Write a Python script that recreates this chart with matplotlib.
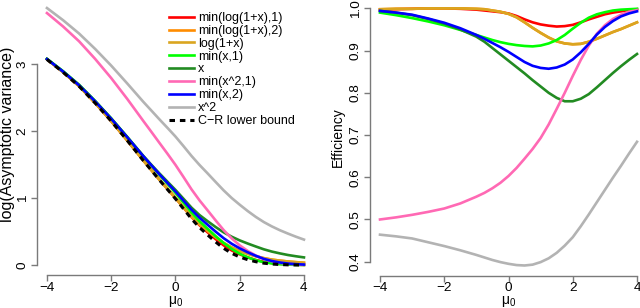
import matplotlib
matplotlib.use("Agg")
import matplotlib.pyplot as plt

plt.rcParams['font.family'] = ['Liberation Sans', 'DejaVu Sans']
plt.rcParams['mathtext.fontset'] = 'custom'
plt.rcParams['mathtext.rm'] = 'Liberation Sans'
plt.rcParams['mathtext.it'] = 'Liberation Sans:italic'

# grid of mu0 values (finer where the curves bend)
mu0 = [-4, -3.5, -3, -2.5, -2, -1.5, -1, -0.75, -0.5, -0.25, 0, 0.25, 0.5, 0.75,
       1, 1.25, 1.5, 1.75, 2, 2.25, 2.5, 2.75, 3, 3.25, 3.5, 3.75, 4]

labels = ["min(log(1+x),1)", "min(log(1+x),2)", "log(1+x)", "min(x,1)", "x",
          "min(x^2,1)", "min(x,2)", "x^2"]
colors = ["#FF0000", "#FF8C00", "#DAA520", "#00FF00", "#228B22",
          "#FF69B4", "#0000FF", "#B3B3B3"]

# left panel: log(asymptotic variance)
logvar_log1x_1 = [3.073, 2.882, 2.671, 2.42, 2.15, 1.861, 1.563, 1.42, 1.277, 1.139, 1.002, 0.858, 0.716, 0.594,
                  0.489, 0.387, 0.294, 0.218, 0.16, 0.114, 0.076, 0.048, 0.029, 0.018, 0.01, 0.005, 0.002]
logvar_log1x_2 = [3.072, 2.881, 2.671, 2.42, 2.15, 1.86, 1.561, 1.417, 1.275, 1.138, 1.003, 0.861, 0.724, 0.607,
                  0.51, 0.417, 0.331, 0.262, 0.209, 0.168, 0.132, 0.103, 0.081, 0.066, 0.053, 0.043, 0.034]
logvar_log1x = [3.072, 2.881, 2.671, 2.42, 2.15, 1.86, 1.561, 1.417, 1.275, 1.138, 1.003, 0.861, 0.724, 0.607,
                0.51, 0.417, 0.331, 0.262, 0.209, 0.168, 0.132, 0.103, 0.081, 0.066, 0.053, 0.043, 0.034]
logvar_minx1 = [3.08, 2.896, 2.693, 2.451, 2.191, 1.912, 1.625, 1.487, 1.348, 1.213, 1.078, 0.931, 0.783, 0.654,
                0.542, 0.432, 0.328, 0.24, 0.169, 0.115, 0.072, 0.042, 0.024, 0.013, 0.006, 0.003, 0.001]
logvar_x = [3.076, 2.89, 2.686, 2.445, 2.187, 1.911, 1.629, 1.497, 1.369, 1.245, 1.122, 0.99, 0.857, 0.746,
            0.655, 0.568, 0.488, 0.423, 0.368, 0.321, 0.277, 0.235, 0.201, 0.174, 0.15, 0.131, 0.114]
logvar_minx2_1 = [3.763, 3.563, 3.341, 3.078, 2.792, 2.48, 2.151, 1.989, 1.825, 1.663, 1.496, 1.315, 1.13, 0.965,
                  0.817, 0.667, 0.522, 0.398, 0.294, 0.21, 0.142, 0.09, 0.056, 0.033, 0.018, 0.009, 0.004]
logvar_minx2 = [3.076, 2.89, 2.685, 2.444, 2.185, 1.908, 1.625, 1.49, 1.356, 1.227, 1.099, 0.962, 0.826, 0.706,
                0.602, 0.499, 0.401, 0.318, 0.249, 0.19, 0.138, 0.092, 0.06, 0.038, 0.022, 0.013, 0.007]
logvar_x2 = [3.838, 3.657, 3.457, 3.227, 2.978, 2.711, 2.437, 2.307, 2.176, 2.049, 1.919, 1.776, 1.629, 1.494,
             1.369, 1.241, 1.115, 1.001, 0.901, 0.806, 0.719, 0.642, 0.577, 0.52, 0.47, 0.423, 0.38]
logvar_cr = [3.07, 2.88, 2.67, 2.42, 2.15, 1.86, 1.56, 1.415, 1.27, 1.13, 0.99, 0.84, 0.69, 0.56,
             0.45, 0.345, 0.25, 0.175, 0.12, 0.08, 0.05, 0.028, 0.015, 0.008, 0.003, 0.001, 0.0]

# right panel: efficiency
eff_log1x_1 = [0.997, 0.998, 0.999, 1.0, 1.0, 0.999, 0.997, 0.995, 0.993, 0.991, 0.988, 0.982, 0.974, 0.967,
               0.962, 0.959, 0.957, 0.958, 0.961, 0.967, 0.974, 0.980, 0.986, 0.990, 0.993, 0.996, 0.998]
eff_log1x_2 = [0.998, 0.999, 0.999, 1.0, 1.0, 1.0, 0.999, 0.998, 0.995, 0.992, 0.987, 0.979, 0.967, 0.954,
               0.942, 0.931, 0.922, 0.917, 0.915, 0.916, 0.921, 0.928, 0.936, 0.944, 0.951, 0.959, 0.967]
eff_log1x = [0.998, 0.999, 0.999, 1.0, 1.0, 1.0, 0.999, 0.998, 0.995, 0.992, 0.987, 0.979, 0.967, 0.954,
             0.942, 0.931, 0.922, 0.917, 0.915, 0.916, 0.921, 0.928, 0.936, 0.944, 0.951, 0.959, 0.967]
eff_minx1 = [0.990, 0.984, 0.977, 0.969, 0.960, 0.949, 0.937, 0.931, 0.925, 0.92, 0.916, 0.913, 0.911, 0.910,
             0.912, 0.917, 0.925, 0.937, 0.952, 0.966, 0.978, 0.986, 0.991, 0.995, 0.997, 0.998, 0.999]
eff_x = [0.994, 0.99, 0.984, 0.975, 0.964, 0.95, 0.933, 0.921, 0.906, 0.891, 0.876, 0.861, 0.846, 0.83,
         0.815, 0.80, 0.788, 0.78, 0.78, 0.786, 0.797, 0.813, 0.83, 0.847, 0.863, 0.878, 0.892]
eff_minx2_1 = [0.5, 0.505, 0.511, 0.518, 0.526, 0.538, 0.554, 0.563, 0.574, 0.587, 0.603, 0.622, 0.644, 0.667,
               0.693, 0.725, 0.762, 0.80, 0.84, 0.878, 0.912, 0.94, 0.96, 0.975, 0.985, 0.992, 0.996]
eff_minx2 = [0.994, 0.99, 0.985, 0.976, 0.966, 0.953, 0.937, 0.928, 0.918, 0.908, 0.897, 0.885, 0.873, 0.864,
             0.859, 0.857, 0.86, 0.867, 0.879, 0.896, 0.916, 0.938, 0.956, 0.97, 0.981, 0.988, 0.993]
eff_x2 = [0.464, 0.46, 0.455, 0.446, 0.437, 0.427, 0.416, 0.41, 0.404, 0.399, 0.395, 0.392, 0.391, 0.393,
          0.399, 0.408, 0.421, 0.438, 0.458, 0.484, 0.512, 0.541, 0.57, 0.599, 0.627, 0.656, 0.684]

logvar = [logvar_log1x_1, logvar_log1x_2, logvar_log1x, logvar_minx1, logvar_x,
          logvar_minx2_1, logvar_minx2, logvar_x2]
eff = [eff_log1x_1, eff_log1x_2, eff_log1x, eff_minx1, eff_x,
       eff_minx2_1, eff_minx2, eff_x2]

axis_gray = "#7a7a7a"
lw = 1.9

fig = plt.figure(figsize=(6.4, 3.08), dpi=100)
ax1 = fig.add_axes([0.0573, 0.106, 0.4337, 0.901])
ax2 = fig.add_axes([0.5777, 0.1032, 0.4337, 0.903])


def r_style(ax, xb, yb):
    for s in ["top", "right"]:
        ax.spines[s].set_visible(False)
    ax.spines["bottom"].set_bounds(*xb)
    ax.spines["left"].set_bounds(*yb)
    for s in ["bottom", "left"]:
        ax.spines[s].set_color(axis_gray)
        ax.spines[s].set_linewidth(1.0)
    ax.tick_params(axis="both", direction="out", length=4, width=1.0,
                   color=axis_gray, labelsize=9.7, labelcolor="black")
    ax.tick_params(axis="x", pad=0.5)
    ax.tick_params(axis="y", pad=1.8)
    for t in ax.get_yticklabels():
        t.set_rotation(90)
        t.set_va("center")


# left panel
for ys, c, lab in zip(logvar, colors, labels):
    ax1.plot(mu0, ys, color=c, lw=lw, label=lab)
ax1.plot(mu0, logvar_cr, color="black", lw=2.2, dashes=(1.8, 1.6),
         label="C\u2212R lower bound")
ax1.set_xlim(-4.32, 4.32)
ax1.set_ylim(-0.154, 3.99)
ax1.set_xticks([-4, -2, 0, 2, 4])
ax1.set_yticks([0, 1, 2, 3])
r_style(ax1, (-4, 4), (0, 3))
ax1.legend(loc="upper left", bbox_to_anchor=(169 / 640, 1 - 12 / 308),
           bbox_transform=fig.transFigure, frameon=False, fontsize=9,
           handlelength=2.0, handletextpad=0.3, labelspacing=0.07,
           borderpad=0, borderaxespad=0)

# right panel
for ys, c in zip(eff, colors):
    ax2.plot(mu0, ys, color=c, lw=lw)
ax2.set_xlim(-4.32, 4.32)
ax2.set_ylim(0.3656, 1.0244)
ax2.set_xticks([-4, -2, 0, 2, 4])
ax2.set_yticks([0.4, 0.5, 0.6, 0.7, 0.8, 0.9, 1.0])
ax2.set_yticklabels(["0.4", "0.5", "0.6", "0.7", "0.8", "0.9", "1.0"])
r_style(ax2, (-4, 4), (0.4, 1.0))

# axis titles
fig.text(7.5 / 640, 1 - 134 / 308, "log(Asymptotic variance)", rotation=90,
         ha="center", va="center", fontsize=11.5)
fig.text(338 / 640, 1 - 137 / 308, "Efficiency", rotation=90,
         ha="center", va="center", fontsize=10)
fig.text(175.5 / 640, 1 - 301.5 / 308, r"$\mathrm{\mu_0}$", ha="center",
         va="center", fontsize=10)
fig.text(508.5 / 640, 1 - 301.5 / 308, r"$\mathrm{\mu_0}$", ha="center",
         va="center", fontsize=10)

fig.savefig("out.png", dpi=100)
